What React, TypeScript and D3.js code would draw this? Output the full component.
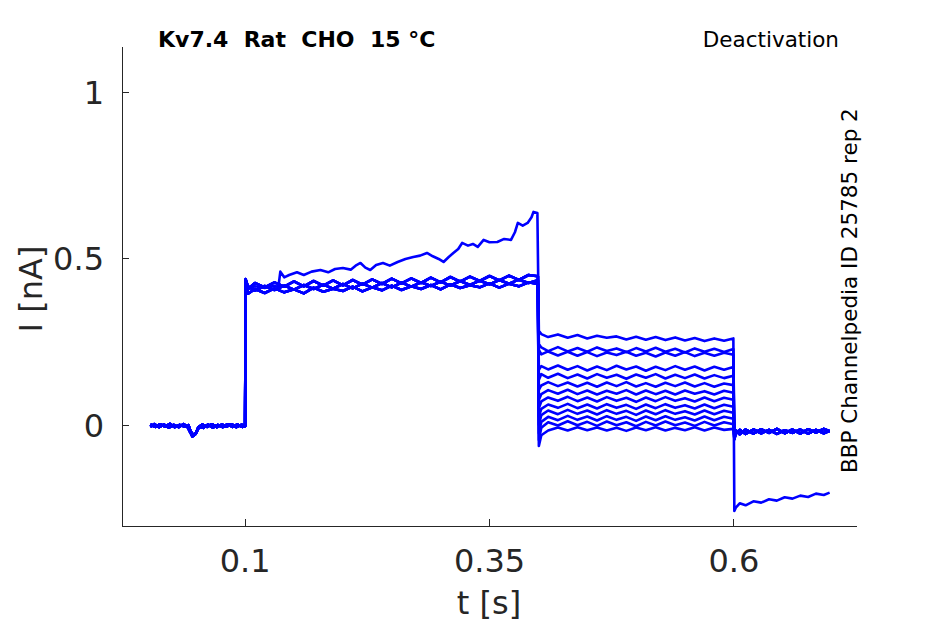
import React, { useEffect, useRef } from "react";
import * as d3 from "d3";

type Pt = [number, number];

// holding period before the activation step (two overlapping sweep groups)
const baseA: Pt[] = [
  [0.003, 0.004], [0.008, -0.003], [0.013, 0.005], [0.018, -0.002], [0.023, 0.006],
  [0.028, -0.004], [0.033, 0.003], [0.038, -0.002], [0.042, 0.002], [0.044, -0.015],
  [0.047, -0.028], [0.05, -0.02], [0.052, -0.005], [0.056, 0.004], [0.061, -0.003],
  [0.066, 0.005], [0.071, -0.004], [0.076, 0.004], [0.081, -0.002], [0.086, 0.005],
  [0.091, -0.004], [0.096, 0.003], [0.1, 0.001],
];
const baseB: Pt[] = [
  [0.003, -0.003], [0.007, 0.005], [0.012, -0.004], [0.017, 0.004], [0.022, -0.005],
  [0.027, 0.003], [0.032, -0.004], [0.037, 0.005], [0.041, -0.003], [0.044, -0.02],
  [0.046, -0.032], [0.049, -0.025], [0.053, -0.003], [0.057, -0.006], [0.062, 0.004],
  [0.067, -0.005], [0.072, 0.003], [0.077, -0.004], [0.082, 0.005], [0.087, -0.003],
  [0.092, 0.004], [0.097, -0.003], [0.1, -0.001],
];

// activation step (0.1 - 0.4 s)
const actTimes = [
  0.1005, 0.103, 0.11, 0.12, 0.13, 0.14, 0.15, 0.16, 0.17, 0.18, 0.19, 0.2, 0.21, 0.22, 0.23, 0.24,
  0.25, 0.26, 0.27, 0.28, 0.29, 0.3, 0.31, 0.32, 0.33, 0.34, 0.35, 0.36, 0.37, 0.38, 0.39, 0.3995,
];
const actLow = [
  0.43, 0.396, 0.41, 0.398, 0.412, 0.4, 0.409, 0.397, 0.414, 0.402, 0.411, 0.404, 0.417, 0.403, 0.415, 0.406,
  0.42, 0.407, 0.418, 0.41, 0.422, 0.409, 0.424, 0.413, 0.421, 0.415, 0.427, 0.414, 0.426, 0.418, 0.43, 0.425,
];
const actMid = [
  0.436, 0.418, 0.405, 0.419, 0.407, 0.42, 0.408, 0.422, 0.41, 0.423, 0.411, 0.425, 0.412, 0.426, 0.414, 0.428,
  0.415, 0.429, 0.417, 0.43, 0.419, 0.432, 0.42, 0.434, 0.422, 0.435, 0.424, 0.437, 0.426, 0.438, 0.428, 0.436,
];
const actHigh = [
  0.44, 0.41, 0.428, 0.415, 0.43, 0.417, 0.433, 0.418, 0.434, 0.42, 0.436, 0.421, 0.437, 0.423, 0.439, 0.425,
  0.441, 0.427, 0.442, 0.428, 0.444, 0.43, 0.446, 0.432, 0.447, 0.434, 0.449, 0.436, 0.45, 0.437, 0.452, 0.448,
];
// the one sweep that drifts upward during activation
const driftAct: Pt[] = [
  [0.1005, 0.43], [0.103, 0.41], [0.11, 0.418], [0.12, 0.413], [0.13, 0.42], [0.134, 0.416],
  [0.136, 0.462], [0.14, 0.445], [0.145, 0.452], [0.153, 0.46], [0.16, 0.452], [0.168, 0.462],
  [0.177, 0.467], [0.185, 0.46], [0.192, 0.47], [0.2, 0.473], [0.208, 0.468], [0.213, 0.48],
  [0.218, 0.488], [0.223, 0.474], [0.228, 0.467], [0.234, 0.482], [0.241, 0.488], [0.248, 0.48],
  [0.256, 0.491], [0.264, 0.5], [0.272, 0.506], [0.279, 0.51], [0.286, 0.518], [0.292, 0.508],
  [0.298, 0.5], [0.303, 0.491], [0.308, 0.505], [0.313, 0.518], [0.318, 0.53], [0.322, 0.548],
  [0.328, 0.54], [0.333, 0.545], [0.338, 0.536], [0.344, 0.557], [0.35, 0.55], [0.358, 0.551],
  [0.365, 0.56], [0.372, 0.557], [0.376, 0.58], [0.379, 0.608], [0.384, 0.6], [0.389, 0.608],
  [0.393, 0.625], [0.395, 0.641], [0.399, 0.638],
];

// deactivation steps (0.4 - 0.6 s), one row per sweep
const deactTimes = [
  0.4005, 0.403, 0.41, 0.42, 0.43, 0.44, 0.45, 0.46, 0.47, 0.48, 0.49,
  0.5, 0.51, 0.52, 0.53, 0.54, 0.55, 0.56, 0.57, 0.58, 0.59, 0.5995,
];
const deactLevels: number[][] = [
  [0.285, 0.275, 0.266, 0.274, 0.264, 0.272, 0.262, 0.27, 0.264, 0.268, 0.259, 0.267, 0.258, 0.266, 0.257, 0.265, 0.256, 0.263, 0.254, 0.262, 0.255, 0.262],
  [0.245, 0.235, 0.224, 0.236, 0.223, 0.233, 0.222, 0.235, 0.224, 0.232, 0.221, 0.233, 0.223, 0.234, 0.222, 0.231, 0.22, 0.232, 0.222, 0.231, 0.221, 0.23],
  [0.228, 0.214, 0.223, 0.211, 0.222, 0.21, 0.221, 0.209, 0.22, 0.212, 0.222, 0.21, 0.219, 0.208, 0.22, 0.21, 0.221, 0.209, 0.219, 0.21, 0.219, 0.213],
  [0.168, 0.179, 0.169, 0.181, 0.168, 0.179, 0.166, 0.178, 0.167, 0.18, 0.169, 0.178, 0.165, 0.177, 0.167, 0.179, 0.168, 0.178, 0.166, 0.177, 0.168, 0.176],
  [0.138, 0.155, 0.144, 0.156, 0.143, 0.154, 0.142, 0.155, 0.144, 0.153, 0.141, 0.154, 0.144, 0.155, 0.142, 0.153, 0.143, 0.154, 0.142, 0.152, 0.143, 0.15],
  [0.108, 0.121, 0.131, 0.119, 0.13, 0.118, 0.129, 0.117, 0.13, 0.119, 0.131, 0.118, 0.128, 0.117, 0.129, 0.119, 0.13, 0.118, 0.128, 0.117, 0.127, 0.122],
  [0.078, 0.095, 0.107, 0.096, 0.108, 0.095, 0.106, 0.094, 0.105, 0.096, 0.107, 0.094, 0.106, 0.095, 0.105, 0.094, 0.106, 0.096, 0.104, 0.094, 0.105, 0.099],
  [0.053, 0.073, 0.085, 0.075, 0.087, 0.074, 0.085, 0.073, 0.086, 0.075, 0.084, 0.072, 0.085, 0.074, 0.086, 0.075, 0.083, 0.073, 0.085, 0.074, 0.084, 0.078],
  [0.028, 0.051, 0.064, 0.054, 0.066, 0.053, 0.064, 0.052, 0.065, 0.054, 0.063, 0.051, 0.064, 0.053, 0.065, 0.054, 0.062, 0.052, 0.064, 0.053, 0.063, 0.057],
  [0.003, 0.032, 0.046, 0.035, 0.048, 0.036, 0.046, 0.034, 0.047, 0.036, 0.045, 0.033, 0.046, 0.035, 0.047, 0.036, 0.044, 0.034, 0.046, 0.035, 0.045, 0.039],
  [-0.022, 0.012, 0.027, 0.017, 0.03, 0.018, 0.028, 0.016, 0.029, 0.018, 0.027, 0.015, 0.028, 0.017, 0.029, 0.018, 0.026, 0.016, 0.028, 0.017, 0.027, 0.021],
  [-0.042, -0.006, 0.011, 0.001, 0.014, 0.002, 0.012, 0.0, 0.013, 0.002, 0.011, -0.001, 0.012, 0.001, 0.013, 0.002, 0.01, 0.0, 0.012, 0.001, 0.011, 0.005],
  [-0.06, -0.028, -0.014, -0.005, -0.014, -0.004, -0.013, -0.005, -0.014, -0.006, -0.015, -0.005, -0.013, -0.004, -0.014, -0.006, -0.013, -0.004, -0.014, -0.005, -0.012, -0.009],
];

// return to holding (0.6 - 0.7 s)
const tailTimes = [0.6005, 0.602, 0.606, 0.612, 0.62, 0.628, 0.636, 0.644, 0.652, 0.66, 0.668, 0.676, 0.684, 0.692, 0.698];
const tailA = [-0.04, -0.022, -0.012, -0.024, -0.011, -0.022, -0.012, -0.024, -0.013, -0.021, -0.011, -0.023, -0.012, -0.022, -0.015];
const tailB = [-0.035, -0.014, -0.025, -0.011, -0.023, -0.01, -0.021, -0.009, -0.022, -0.011, -0.023, -0.01, -0.02, -0.009, -0.016];
const tailBig = [-0.255, -0.245, -0.232, -0.238, -0.226, -0.23, -0.22, -0.224, -0.214, -0.218, -0.209, -0.213, -0.203, -0.207, -0.2];

const xTicks = [0.1, 0.35, 0.6];
const xTickLabels = ["0.1", "0.35", "0.6"];
const yTicks = [0, 0.5, 1];
const yTickLabels = ["0", "0.5", "1"];

const FONT = "'DejaVu Sans', sans-serif";
const AXIS = "#262626";

const App: React.FC = () => {
  const svgRef = useRef<SVGSVGElement | null>(null);

  useEffect(() => {
    if (!svgRef.current) return;
    const width = 945;
    const height = 624;
    const svg = d3.select(svgRef.current).attr("width", width).attr("height", height);
    svg.selectAll("*").remove();

    const x = d3.scaleLinear().domain([-0.026, 0.726]).range([122, 857]);
    const y = d3.scaleLinear().domain([-0.3, 1.135]).range([526, 47]);

    const acts = [actLow, actMid, actHigh];
    const sweeps: Pt[][] = deactLevels.map((lv, i) => {
      const base = i % 2 ? baseB : baseA;
      const act: Pt[] = i === 0 ? driftAct : actTimes.map((t, k) => [t, acts[i % 3][k]] as Pt);
      const deact: Pt[] = deactTimes.map((t, k) => [t, lv[k]] as Pt);
      const tailVals = i === 0 ? tailBig : i % 2 ? tailB : tailA;
      const tail: Pt[] = tailTimes.map((t, k) => [t, tailVals[k]] as Pt);
      return [...base, ...act, ...deact, ...tail];
    });

    const line = d3.line<Pt>().x(d => x(d[0])).y(d => y(d[1]));

    svg.append("g")
      .selectAll("path")
      .data(sweeps)
      .enter()
      .append("path")
      .attr("d", d => line(d))
      .attr("fill", "none")
      .attr("stroke", "#0000ff")
      .attr("stroke-width", 2.6)
      .attr("stroke-linejoin", "round");

    // axes (box off, ticks pointing inward)
    const ax = svg.append("g").attr("stroke", AXIS).attr("stroke-width", 1).attr("shape-rendering", "crispEdges");
    ax.append("line").attr("x1", x.range()[0]).attr("x2", x.range()[0]).attr("y1", y.range()[0]).attr("y2", y.range()[1]);
    ax.append("line").attr("x1", x.range()[0]).attr("x2", x.range()[1]).attr("y1", y.range()[0]).attr("y2", y.range()[0]);
    yTicks.forEach(v => {
      ax.append("line").attr("x1", x.range()[0]).attr("x2", x.range()[0] + 7).attr("y1", y(v)).attr("y2", y(v));
    });
    xTicks.forEach(v => {
      ax.append("line").attr("x1", x(v)).attr("x2", x(v)).attr("y1", y.range()[0]).attr("y2", y.range()[0] - 7);
    });

    const txt = svg.append("g").attr("fill", AXIS).style("font-family", FONT);
    yTicks.forEach((v, i) => {
      txt.append("text").attr("x", 104).attr("y", y(v)).attr("dy", "0.36em")
        .attr("text-anchor", "end").style("font-size", "32px").text(yTickLabels[i]);
    });
    xTicks.forEach((v, i) => {
      txt.append("text").attr("x", x(v)).attr("y", 572)
        .attr("text-anchor", "middle").style("font-size", "32px").text(xTickLabels[i]);
    });
    txt.append("text").attr("x", 489).attr("y", 614).attr("text-anchor", "middle")
      .style("font-size", "32px").text("t [s]");
    txt.append("text").attr("transform", "translate(42,289) rotate(-90)").attr("text-anchor", "middle")
      .style("font-size", "32px").text("I [nA]");

    const ann = svg.append("g").attr("fill", "#000").style("font-family", FONT);
    ann.append("text").attr("x", 158).attr("y", 47).style("font-size", "22px").style("font-weight", "bold")
      .style("white-space", "pre").text("Kv7.4  Rat  CHO  15 °C");
    ann.append("text").attr("x", 839).attr("y", 47).attr("text-anchor", "end").style("font-size", "21.5px")
      .text("Deactivation");
    ann.append("text").attr("transform", "translate(857,473) rotate(-90)").style("font-size", "21.5px")
      .text("BBP Channelpedia ID 25785 rep 2");
  }, []);

  return (
    <div style={{ position: "absolute", left: 0, top: 0 }}>
      <svg ref={svgRef}></svg>
    </div>
  );
};

export default App;
